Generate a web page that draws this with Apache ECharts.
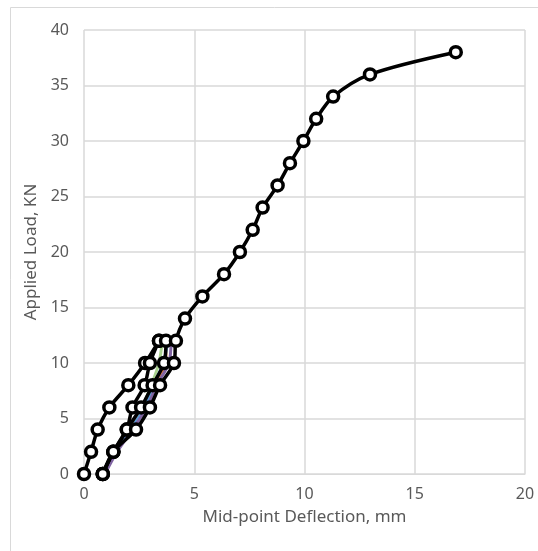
<!DOCTYPE html>
<html>
<head>
<meta charset="utf-8">
<script src="https://cdn.jsdelivr.net/npm/echarts@6/dist/echarts.min.js"></script>
<style>
  html, body { margin: 0; padding: 0; background: #fff; }
  #main { width: 538px; height: 551px; }
</style>
</head>
<body>
<div id="main"></div>
<script>
// load-deflection readings, [deflection mm, load kN]
var firstLoad = [[0, 0], [0.32, 2], [0.62, 4], [1.15, 6], [2.01, 8], [2.77, 10], [3.4, 12]];
var firstUnload = [[3.4, 12], [2.99, 10], [2.75, 8], [2.2, 6], [1.94, 4], [1.33, 2], [0.85, 0]];
var cycleGreen = [[0.88, 0], [1.36, 2], [1.98, 4], [2.62, 6], [3.05, 8], [3.4, 10], [3.55, 12]];
var cycleOrange = [[0.9, 0], [1.4, 2], [2.05, 4], [2.7, 6], [3.2, 8], [3.7, 10], [3.72, 12]];
var cycleBlue = [[0.9, 0], [1.42, 2], [2.1, 4], [2.75, 6], [3.15, 8], [3.6, 10], [3.8, 12]];
var cyclePurple = [[0.95, 0], [1.5, 2], [2.2, 4], [2.85, 6], [3.3, 8], [3.85, 10], [3.95, 12]];
var lastUnload = [[3.72, 12], [3.63, 10], [3.11, 8], [2.59, 6], [1.94, 4], [1.33, 2], [0.85, 0]];
var finalLoad = [[0.85, 0], [1.33, 2], [2.36, 4], [2.99, 6], [3.45, 8], [4.08, 10], [4.17, 12],
  [4.58, 14], [5.37, 16], [6.35, 18], [7.07, 20], [7.65, 22], [8.1, 24], [8.78, 26],
  [9.34, 28], [9.95, 30], [10.53, 32], [11.3, 34], [12.97, 36], [16.86, 38]];

var xTicks = [0, 5, 10, 15, 20];
var yTicks = [0, 5, 10, 15, 20, 25, 30, 35, 40];

var chart = echarts.init(document.getElementById('main'));

var font = '"Noto Sans", sans-serif';
var grey = '#595959';

function colourLine(name, data, color) {
    return {
        name: name,
        type: 'line',
        data: data,
        smooth: 0.3,
        symbol: 'none',
        lineStyle: { color: color, width: 3 },
        z: 2
    };
}

function blackLine(name, data) {
    return {
        name: name,
        type: 'line',
        data: data,
        smooth: 0.3,
        symbol: 'circle',
        symbolSize: 11,
        itemStyle: { color: '#fff', borderColor: '#000', borderWidth: 3.5 },
        lineStyle: { color: '#000', width: 3.5 },
        z: 3
    };
}

var option = {
    animation: false,
    textStyle: { fontFamily: font },
    graphic: [{
        type: 'rect',
        shape: { x: 10.5, y: 7.5, width: 600, height: 600 },
        style: { fill: 'none', stroke: '#d9d9d9', lineWidth: 1 },
        silent: true
    }],
    grid: { left: 84, right: 13, top: 30, bottom: 77 },
    xAxis: {
        type: 'value',
        min: xTicks[0],
        max: xTicks[xTicks.length - 1],
        interval: 5,
        name: 'Mid-point Deflection, mm',
        nameLocation: 'middle',
        nameGap: 35,
        nameTextStyle: { color: grey, fontSize: 17, fontFamily: font },
        axisLine: { show: true, lineStyle: { color: '#d9d9d9' } },
        axisTick: { show: false },
        axisLabel: { color: grey, fontSize: 16, margin: 12, fontFamily: font },
        splitLine: { show: true, lineStyle: { color: '#d9d9d9', width: 1.5 } }
    },
    yAxis: {
        type: 'value',
        min: yTicks[0],
        max: yTicks[yTicks.length - 1],
        interval: 5,
        name: 'Applied Load, KN',
        nameLocation: 'middle',
        nameGap: 44,
        nameRotate: 90,
        nameTextStyle: { color: grey, fontSize: 17, fontFamily: font },
        axisLine: { show: false },
        axisTick: { show: false },
        axisLabel: { color: grey, fontSize: 16, margin: 15, fontFamily: font },
        splitLine: { show: true, lineStyle: { color: '#d9d9d9', width: 1.5 } }
    },
    series: [
        colourLine('cycle 2', cycleGreen, '#a9d18e'),
        colourLine('cycle 3', cycleOrange, '#ed7d31'),
        colourLine('cycle 4', cycleBlue, '#5b9bd5'),
        colourLine('cycle 5', cyclePurple, '#8064a2'),
        blackLine('load 1', firstLoad),
        blackLine('unload 1', firstUnload),
        blackLine('unload 5', lastUnload),
        blackLine('final load', finalLoad)
    ]
};

chart.setOption(option);
</script>
</body>
</html>
